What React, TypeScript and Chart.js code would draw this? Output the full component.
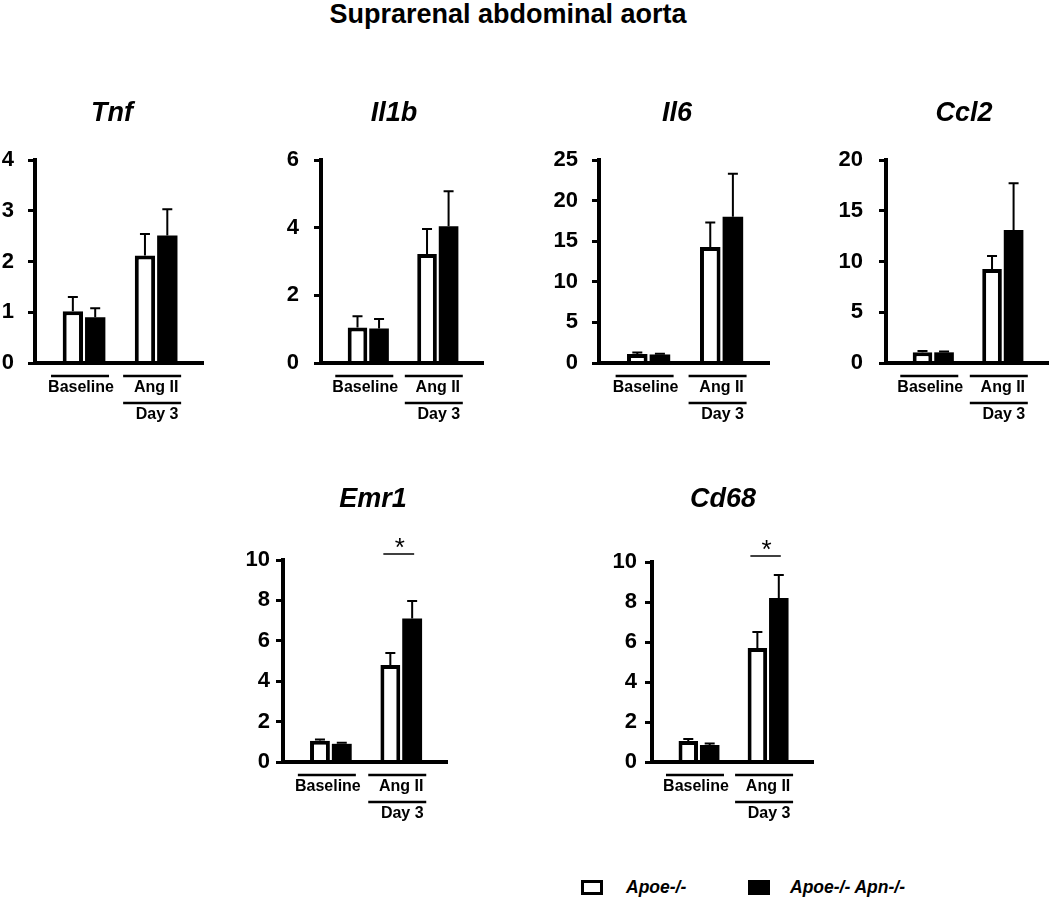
import React, { useEffect, useRef } from "react";
import { Chart, registerables } from "chart.js";

Chart.register(...registerables);

// ---------- data ----------
const figureTitle = "Suprarenal abdominal aorta";
const groupLabels = ["Baseline", "Ang II"];
const subGroupLabel = "Day 3";
const seriesNames = ["Apoe-/-", "Apoe-/- Apn-/-"];
const groupPositions = [0, 1];

const tnfApoe = [1.02, 2.12];
const tnfApoeSem = [0.28, 0.42];
const tnfApoeApn = [0.9, 2.51];
const tnfApoeApnSem = [0.18, 0.52];
const tnfAxis = [0, 4, 1]; // min, max, step

const il1bApoe = [1.05, 3.22];
const il1bApoeSem = [0.33, 0.74];
const il1bApoeApn = [1.02, 4.04];
const il1bApoeApnSem = [0.28, 1.04];
const il1bAxis = [0, 6, 2];

const il6Apoe = [1.1, 14.3];
const il6ApoeSem = [0.2, 3.0];
const il6ApoeApn = [1.05, 18.0];
const il6ApoeApnSem = [0.1, 5.3];
const il6Axis = [0, 25, 5];

const ccl2Apoe = [1.05, 9.25];
const ccl2ApoeSem = [0.12, 1.3];
const ccl2ApoeApn = [1.05, 13.1];
const ccl2ApoeApnSem = [0.08, 4.6];
const ccl2Axis = [0, 20, 5];

const emr1Apoe = [1.05, 4.8];
const emr1ApoeSem = [0.07, 0.6];
const emr1ApoeApn = [0.9, 7.1];
const emr1ApoeApnSem = [0.05, 0.87];
const emr1Axis = [0, 10, 2];

const cd68Apoe = [1.05, 5.7];
const cd68ApoeSem = [0.1, 0.8];
const cd68ApoeApn = [0.85, 8.2];
const cd68ApoeApnSem = [0.07, 1.15];
const cd68Axis = [0, 10, 2];

// ---------- layout (page pixels) ----------
const FONT = "'Liberation Sans', Arial, Helvetica, sans-serif";

type Panel = {
  gene: string;
  apoe: number[];
  apoeSem: number[];
  apoeApn: number[];
  apoeApnSem: number[];
  axis: number[];
  sig: boolean;
  axisX: number;
  axisEnd: number;
  topY: number;
  zeroY: number;
  canvasTop: number;
  canvasHeight: number;
  titleX: number;
  titleY: number;
  labelGap: number;
};

const panels: Panel[] = [
  { gene: "Tnf", apoe: tnfApoe, apoeSem: tnfApoeSem, apoeApn: tnfApoeApn, apoeApnSem: tnfApoeApnSem, axis: tnfAxis, sig: false,
    axisX: 35, axisEnd: 203, topY: 160, zeroY: 363, canvasTop: 90, canvasHeight: 340, titleX: 112, titleY: 121, labelGap: 21 },
  { gene: "Il1b", apoe: il1bApoe, apoeSem: il1bApoeSem, apoeApn: il1bApoeApn, apoeApnSem: il1bApoeApnSem, axis: il1bAxis, sig: false,
    axisX: 321, axisEnd: 483, topY: 160, zeroY: 363, canvasTop: 90, canvasHeight: 340, titleX: 394, titleY: 121, labelGap: 22 },
  { gene: "Il6", apoe: il6Apoe, apoeSem: il6ApoeSem, apoeApn: il6ApoeApn, apoeApnSem: il6ApoeApnSem, axis: il6Axis, sig: false,
    axisX: 599, axisEnd: 769, topY: 160, zeroY: 363, canvasTop: 90, canvasHeight: 340, titleX: 677, titleY: 121, labelGap: 21 },
  { gene: "Ccl2", apoe: ccl2Apoe, apoeSem: ccl2ApoeSem, apoeApn: ccl2ApoeApn, apoeApnSem: ccl2ApoeApnSem, axis: ccl2Axis, sig: false,
    axisX: 886, axisEnd: 1048, topY: 160, zeroY: 363, canvasTop: 90, canvasHeight: 340, titleX: 964, titleY: 121, labelGap: 23 },
  { gene: "Emr1", apoe: emr1Apoe, apoeSem: emr1ApoeSem, apoeApn: emr1ApoeApn, apoeApnSem: emr1ApoeApnSem, axis: emr1Axis, sig: true,
    axisX: 283, axisEnd: 447, topY: 560, zeroY: 762, canvasTop: 470, canvasHeight: 360, titleX: 373, titleY: 507, labelGap: 13 },
  { gene: "Cd68", apoe: cd68Apoe, apoeSem: cd68ApoeSem, apoeApn: cd68ApoeApn, apoeApnSem: cd68ApoeApnSem, axis: cd68Axis, sig: true,
    axisX: 652, axisEnd: 813, topY: 562, zeroY: 762, canvasTop: 470, canvasHeight: 360, titleX: 723, titleY: 507, labelGap: 15 },
];

const TICK_LEN = 7;

const decorPlugin = {
  id: "decor",
  afterDatasetsDraw(chart: any) {
    const ctx = chart.ctx;
    const y = chart.scales.y;
    ctx.save();
    ctx.strokeStyle = "#000";
    ctx.lineWidth = 2;
    chart.data.datasets.forEach((ds: any, di: number) => {
      const meta = chart.getDatasetMeta(di);
      meta.data.forEach((bar: any, i: number) => {
        const v = ds.data[i].y;
        const e = ds.sem[i];
        const yt = y.getPixelForValue(v + e);
        ctx.beginPath();
        ctx.moveTo(bar.x, bar.y);
        ctx.lineTo(bar.x, yt);
        ctx.moveTo(bar.x - 5, yt);
        ctx.lineTo(bar.x + 5, yt);
        ctx.stroke();
      });
    });
    ctx.restore();
  },
  afterDraw(chart: any) {
    const ctx = chart.ctx;
    const o = chart.options.plugins.decor;
    const x = chart.scales.x;
    const y = chart.scales.y;
    const zy = y.getPixelForValue(0);
    const c0 = x.getPixelForValue(groupPositions[0]);
    const c1 = x.getPixelForValue(groupPositions[1]);
    ctx.save();
    ctx.fillStyle = "#000";
    ctx.strokeStyle = "#000";
    // gene title
    ctx.font = `italic bold 27px ${FONT}`;
    ctx.textAlign = "center";
    ctx.textBaseline = "alphabetic";
    ctx.fillText(o.gene, o.titleX, o.titleY);
    // group lines and labels
    ctx.lineWidth = 2.5;
    const hw = 29;
    const seg = (cx: number, yy: number) => {
      ctx.beginPath();
      ctx.moveTo(cx - 4 - hw, yy);
      ctx.lineTo(cx - 4 + hw, yy);
      ctx.stroke();
    };
    seg(c0, zy + 13);
    seg(c1, zy + 13);
    seg(c1, zy + 40);
    ctx.font = `bold 16px ${FONT}`;
    ctx.textBaseline = "middle";
    ctx.fillText(groupLabels[0], c0 - 3, zy + 25);
    ctx.fillText(groupLabels[1], c1, zy + 25);
    ctx.fillText(subGroupLabel, c1 + 1, zy + 52);
    // significance
    if (o.sig) {
      const wx = chart.getDatasetMeta(0).data[1].x;
      const bx = chart.getDatasetMeta(1).data[1].x;
      const ly = chart.chartArea.top - 6;
      ctx.lineWidth = 1.5;
      ctx.beginPath();
      ctx.moveTo(wx - 7, ly);
      ctx.lineTo(bx + 2, ly);
      ctx.stroke();
      ctx.font = `26px ${FONT}`;
      ctx.textBaseline = "alphabetic";
      ctx.fillText("*", (wx - 7 + bx + 2) / 2 + 1, ly + 2);
    }
    ctx.restore();
  },
};

function PanelChart({ p }: { p: Panel }) {
  const ref = useRef<HTMLCanvasElement | null>(null);
  const left = Math.max(0, p.axisX - 60);
  const right = Math.min(1050, p.axisEnd + 10);
  const width = right - left;
  const yw = p.axisX - left;

  useEffect(() => {
    if (!ref.current) return;
    const chart = new Chart(ref.current, {
      type: "bar",
      data: {
        datasets: [
          {
            label: seriesNames[0],
            data: groupPositions.map((g, i) => ({ x: g, y: p.apoe[i] })),
            sem: p.apoeSem,
            backgroundColor: "#fff",
            borderColor: "#000",
            borderWidth: 4,
            borderSkipped: "start",
          } as any,
          {
            label: seriesNames[1],
            data: groupPositions.map((g, i) => ({ x: g, y: p.apoeApn[i] })),
            sem: p.apoeApnSem,
            backgroundColor: "#000",
            borderColor: "#000",
            borderWidth: 0,
          } as any,
        ],
      },
      options: {
        animation: false,
        responsive: false,
        maintainAspectRatio: false,
        events: [],
        categoryPercentage: 0.62,
        barPercentage: 0.91,
        layout: {
          padding: {
            left: 0,
            right: right - p.axisEnd,
            top: p.topY - p.canvasTop,
            bottom: p.canvasTop + p.canvasHeight - p.zeroY,
          },
        },
        plugins: {
          legend: { display: false },
          title: { display: false },
          tooltip: { enabled: false },
          decor: {
            gene: p.gene,
            titleX: p.titleX - left,
            titleY: p.titleY - p.canvasTop,
            sig: p.sig,
          },
        } as any,
        scales: {
          x: {
            type: "linear",
            min: -0.68,
            max: 1.65,
            offset: false,
            ticks: { display: false, stepSize: 1, includeBounds: false } as any,
            grid: { display: false },
            border: { display: true, color: "#000", width: 4, z: 1 } as any,
            afterBuildTicks: (s: any) => {
              s.ticks = s.ticks.filter((t: any) => Number.isInteger(t.value));
            },
            afterFit: (s: any) => {
              s.height = 0;
            },
          },
          y: {
            min: p.axis[0],
            max: p.axis[1],
            ticks: {
              stepSize: p.axis[2],
              color: "#000",
              padding: p.labelGap - TICK_LEN,
              font: { family: FONT, size: 22, weight: "bold" },
            },
            grid: {
              display: true,
              drawOnChartArea: false,
              drawTicks: true,
              tickLength: TICK_LEN,
              tickWidth: 3,
              tickColor: "#000",
            } as any,
            border: { display: true, color: "#000", width: 4, z: 1 } as any,
            afterFit: (s: any) => {
              s.width = yw;
            },
          },
        },
      } as any,
      plugins: [decorPlugin as any],
    });
    return () => chart.destroy();
  }, []);

  return (
    <canvas
      ref={ref}
      width={width}
      height={p.canvasHeight}
      style={{ position: "absolute", left, top: p.canvasTop, width, height: p.canvasHeight }}
    />
  );
}

export default function App() {
  return (
    <div
      style={{
        position: "absolute",
        left: 0,
        top: 0,
        width: 1050,
        height: 899,
        overflow: "hidden",
        background: "#fff",
        fontFamily: FONT,
      }}
    >
      <div
        style={{
          position: "absolute",
          left: 258,
          top: 1,
          width: 500,
          textAlign: "center",
          font: `bold 27px/27px ${FONT}`,
          color: "#000",
          whiteSpace: "nowrap",
        }}
      >
        {figureTitle}
      </div>
      {panels.map((p) => (
        <PanelChart key={p.gene} p={p} />
      ))}
      <div
        style={{
          position: "absolute",
          left: 581,
          top: 880,
          width: 22,
          height: 15,
          boxSizing: "border-box",
          border: "3px solid #000",
          background: "#fff",
        }}
      />
      <div
        style={{
          position: "absolute",
          left: 626,
          top: 879,
          font: `italic bold 17.5px/17.5px ${FONT}`,
          color: "#000",
          whiteSpace: "nowrap",
        }}
      >
        {seriesNames[0]}
      </div>
      <div
        style={{
          position: "absolute",
          left: 748,
          top: 880,
          width: 22,
          height: 15,
          boxSizing: "border-box",
          border: "3px solid #000",
          background: "#000",
        }}
      />
      <div
        style={{
          position: "absolute",
          left: 790,
          top: 879,
          font: `italic bold 17.5px/17.5px ${FONT}`,
          color: "#000",
          whiteSpace: "nowrap",
        }}
      >
        {seriesNames[1]}
      </div>
    </div>
  );
}
